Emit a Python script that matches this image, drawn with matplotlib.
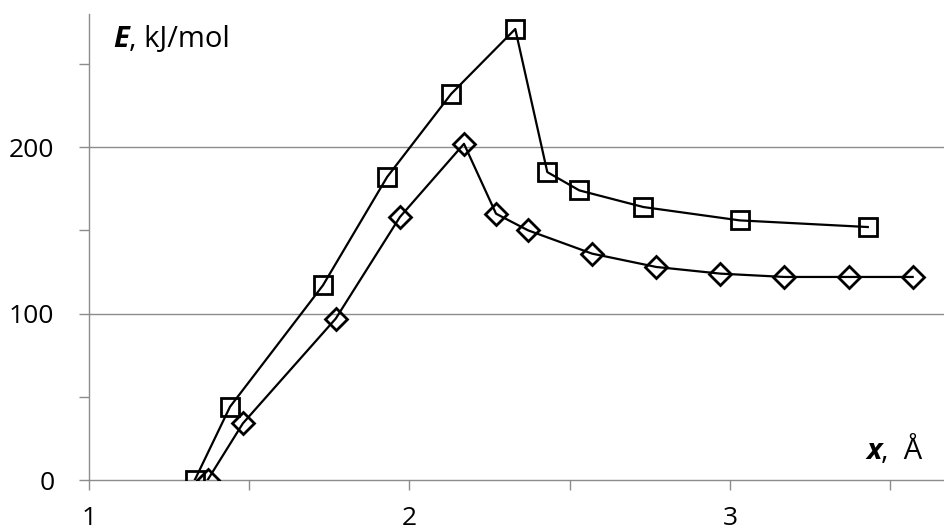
"""
Energy profile E(x): two curves, square and diamond markers.
"""
import matplotlib
matplotlib.use('Agg')
import matplotlib.pyplot as plt
from matplotlib.ticker import FixedLocator

# Data
x_square = [1.33, 1.44, 1.73, 1.93, 2.13, 2.33, 2.43, 2.53, 2.73, 3.03, 3.43]
e_square = [0, 44, 117, 182, 232, 271, 185, 174, 164, 156, 152]

x_diamond = [1.37, 1.48, 1.77, 1.97, 2.17, 2.27, 2.37, 2.57, 2.77, 2.97, 3.17, 3.37, 3.57]
e_diamond = [0, 34, 97, 158, 202, 160, 150, 136, 128, 124, 122, 122, 122]

x_major = [1, 2, 3]
x_minor = [1.5, 2.5, 3.5]
y_major = [0, 100, 200]
y_minor = [50, 150, 250]

GRID = '#8c8c8c'
FONT = 'Open Sans'

fig = plt.figure(figsize=(9.45, 5.31), dpi=100)
ax = fig.add_axes([89 / 945, 51 / 531, 856 / 945, 466 / 531])

ax.plot(x_square, e_square, color='black', linewidth=1.6, marker='s',
        markersize=13, markerfacecolor='none', markeredgewidth=2.0, zorder=3)
ax.plot(x_diamond, e_diamond, color='black', linewidth=1.6, marker='D',
        markersize=11, markerfacecolor='none', markeredgewidth=2.0, zorder=3)

ax.set_xlim(1, 1 + 856 / 320.5)
ax.set_ylim(0, 280)

# gridlines at 100 and 200 only
for y in y_major[1:]:
    ax.axhline(y, color=GRID, linewidth=1.0, zorder=1)

for side in ['top', 'right']:
    ax.spines[side].set_visible(False)
for side in ['left', 'bottom']:
    ax.spines[side].set_color(GRID)
    ax.spines[side].set_linewidth(1.0)

ax.xaxis.set_major_locator(FixedLocator(x_major))
ax.xaxis.set_minor_locator(FixedLocator(x_minor))
ax.yaxis.set_major_locator(FixedLocator(y_major))
ax.yaxis.set_minor_locator(FixedLocator(y_minor))
ax.set_xticklabels([str(v) for v in x_major])
ax.set_yticklabels([str(v) for v in y_major])

ax.tick_params(axis='both', which='both', direction='out', length=7,
               width=1.0, color=GRID)
ax.tick_params(axis='x', which='major', pad=12, labelsize=19)
ax.tick_params(axis='y', which='major', pad=18, labelsize=19)
for lab in ax.get_xticklabels() + ax.get_yticklabels():
    lab.set_fontfamily(FONT)

# axis titles inside the plot
t1 = ax.text((113 - 89) / 856, (480 - 54) / 466, 'E', transform=ax.transAxes,
             fontsize=21, fontfamily=FONT, fontweight='bold',
             fontstyle='italic', va='bottom', ha='left')
ax.annotate(', kJ/mol', xy=(1, 0), xycoords=t1, va='bottom', ha='left',
            fontsize=21, fontfamily=FONT)

t2 = ax.text((866 - 89) / 856, (480 - 466) / 466, 'x', transform=ax.transAxes,
             fontsize=21, fontfamily=FONT, fontweight='bold',
             fontstyle='italic', va='bottom', ha='left')
ax.annotate(',  Å', xy=(1, 0), xycoords=t2, va='bottom', ha='left',
            fontsize=21, fontfamily=FONT)

fig.savefig('out.png', dpi=100, facecolor='white')
